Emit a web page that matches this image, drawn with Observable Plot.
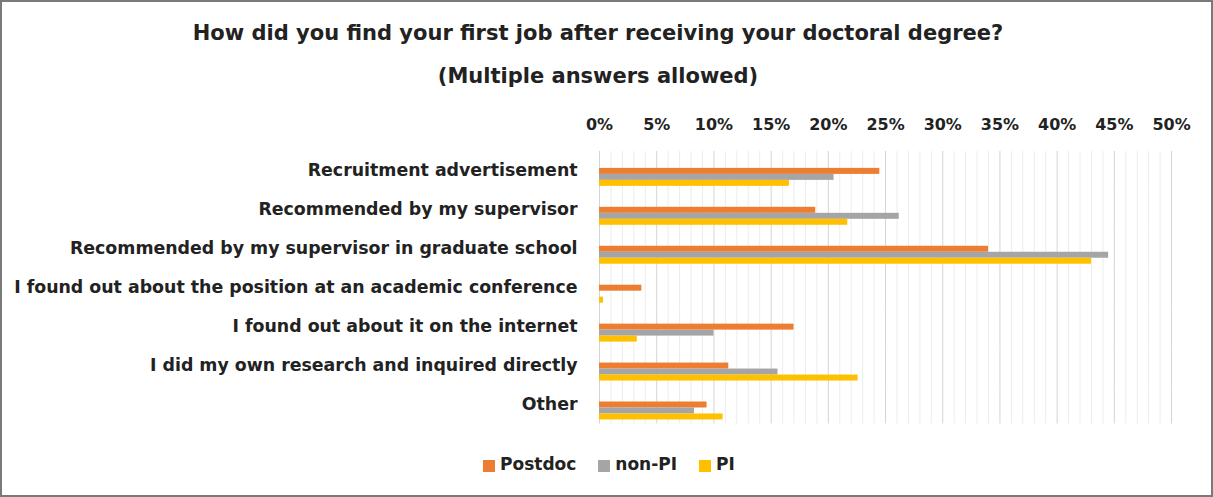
<!DOCTYPE html>
<html>
<head>
<meta charset="utf-8">
<script src="https://cdn.jsdelivr.net/npm/d3@7"></script>
<script src="https://cdn.jsdelivr.net/npm/@observablehq/plot@0.6"></script>
<style>
  html, body { margin: 0; padding: 0; background: #fff; }
  #frame { position: relative; width: 1213px; height: 497px; box-sizing: border-box; border: 2px solid #7a7a7a; font-family: "DejaVu Sans", Verdana, sans-serif; color: #222; overflow: hidden; }
  .title { position: absolute; left: 0; width: 1192px; text-align: center; font-weight: bold; font-size: 21px; line-height: 24px; }
  #chart { position: absolute; left: -2px; top: 98px; }
  #legend { position: absolute; top: 451px; left: 481px; display: flex; align-items: center; font-weight: bold; font-size: 17px; line-height: 22px; }
  #legend .item { display: flex; align-items: center; margin-right: 22px; }
  #legend .sw { width: 12px; height: 12px; margin-right: 5px; margin-top: 4px; }
</style>
</head>
<body>
<div id="frame">
  <div class="title" style="top: 19px;">How did you find your first job after receiving your doctoral degree?</div>
  <div class="title" style="top: 62px;">(Multiple answers allowed)</div>
  <div id="chart"></div>
  <div id="legend"></div>
</div>
<script>
const categories = [
  "Recruitment advertisement",
  "Recommended by my supervisor",
  "Recommended by my supervisor in graduate school",
  "I found out about the position at an academic conference",
  "I found out about it on the internet",
  "I did my own research and inquired directly",
  "Other"
];
const series = ["Postdoc", "non-PI", "PI"];
const colors = ["#ED7D31", "#A5A5A5", "#FFC000"];
const postdoc = [24.5, 18.9, 34.0, 3.7, 17.0, 11.3, 9.4];
const nonPI   = [20.5, 26.2, 44.5, 0.0, 10.0, 15.6, 8.3];
const pi      = [16.6, 21.7, 43.0, 0.35, 3.3, 22.6, 10.8];
const majorTicks = [0, 5, 10, 15, 20, 25, 30, 35, 40, 45, 50];
const minorTicks = d3.range(0, 51, 1).filter(d => d % 5 !== 0);

const valuesBySeries = [postdoc, nonPI, pi];
const rows = [];
categories.forEach((c, i) => {
  series.forEach((s, j) => rows.push({category: c, series: s, value: valuesBySeries[j][i]}));
});

const chart = Plot.plot({
  width: 1213,
  height: 330,
  marginLeft: 600,
  marginRight: 40,
  marginTop: 51,
  marginBottom: 6,
  style: {fontFamily: "DejaVu Sans, Verdana, sans-serif", fontSize: "17.4px", fontWeight: "bold", color: "#222", background: "transparent"},
  x: {domain: [0, 50], axis: "top", ticks: majorTicks, tickFormat: d => d + "%", tickSize: 0, tickPadding: 21, label: null},
  fy: {domain: categories, axis: "left", padding: 0, label: null, tickSize: 0, tickPadding: 22},
  y: {domain: series, axis: null, paddingInner: 0, paddingOuter: 1.5, align: 0.8},
  color: {domain: series, range: colors},
  marks: [
    Plot.ruleX(minorTicks, {stroke: "#ececec", strokeWidth: 1}),
    Plot.ruleX(majorTicks, {stroke: "#d4d4d4", strokeWidth: 1}),
    Plot.barX(rows, {x: "value", y: "series", fy: "category", fill: "series"})
  ]
});
chart.querySelectorAll('[aria-label="x-axis tick label"] text, [aria-label="x-axis"] text').forEach(t => t.style.fontSize = "16px");
document.getElementById("chart").appendChild(chart);

const legend = document.getElementById("legend");
series.forEach((s, i) => {
  const item = document.createElement("div");
  item.className = "item";
  const sw = document.createElement("div");
  sw.className = "sw";
  sw.style.background = colors[i];
  const t = document.createElement("span");
  t.textContent = s;
  item.appendChild(sw);
  item.appendChild(t);
  legend.appendChild(item);
});
</script>
</body>
</html>
